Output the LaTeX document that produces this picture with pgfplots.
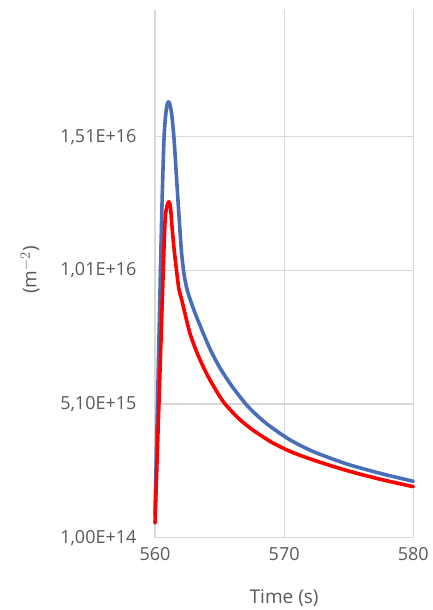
\documentclass[border=0pt]{standalone}
\usepackage{pgfplots}
\pgfplotsset{compat=1.18}
\usepackage{fontspec}
\setmainfont{Open Sans}
\definecolor{txt}{HTML}{595959}
\definecolor{gridc}{HTML}{D9D9D9}
\definecolor{blueline}{HTML}{4A6DB8}
\definecolor{redline}{HTML}{FF0000}
\begin{document}
\begin{tikzpicture}
\useasboundingbox (-155pt,-72.3pt) rectangle (278pt,537.7pt);
\begin{axis}[
  scale only axis,
  width=258.3pt, height=527.7pt,
  xmin=560, xmax=580, ymin=1e14, ymax=1.984e16,
  xtick={560,570,580}, xticklabels={560,570,580},
  ytick={1e14,5.1e15,1.01e16,1.51e16},
  yticklabels={{1,00E+14},{5,10E+15},{1,01E+16},{1,51E+16}},
  grid=major,
  major grid style={gridc, line width=1.2pt},
  axis line style={draw=none},
  tick style={draw=none},
  tick label style={font=\fontsize{18}{21}\selectfont, text=txt},
  yticklabel style={xshift=-15pt},
  xticklabel style={yshift=-6.5pt},
  label style={font=\fontsize{19}{22}\selectfont, text=txt},
  xlabel={Time (s)},
  ylabel={(m$^{-2}$)},
  xlabel style={at={(axis description cs:0.5,-0.114)}, anchor=center},
  ylabel style={at={(axis description cs:-0.484,0.507)}, anchor=center},
  every axis plot/.append style={line width=3.6pt, line join=round, line cap=round, smooth, tension=0.45},
  clip=false,
]
\addplot[blueline] coordinates {
(560.00,1.0e15) (560.20,5.2e15) (560.40,9.6e15) (560.55,1.27e16)
(560.70,1.505e16) (560.85,1.602e16) (560.97,1.635e16) (561.08,1.6405e16)
(561.18,1.625e16) (561.30,1.591e16) (561.47,1.505e16) (561.65,1.37e16)
(561.85,1.22e16) (562.05,1.08e16) (562.25,9.95e15) (562.50,9.35e15)
(562.84,8.85e15) (563.20,8.38e15) (563.74,7.74e15) (564.30,7.12e15)
(565.03,6.45e15) (566.00,5.74e15) (567.10,5.06e15) (568.00,4.63e15)
(568.90,4.27e15) (570.45,3.76e15) (572.26,3.32e15) (574.84,2.86e15)
(577.42,2.51e15) (580.00,2.21e15)
};
\addplot[redline] coordinates {
(560.00,6.5e14) (560.27,4.6e15) (560.54,8.62e15) (560.77,1.187e16)
(560.93,1.25e16) (561.08,1.267e16) (561.20,1.245e16) (561.34,1.161e16)
(561.50,1.08e16) (561.68,1.005e16) (561.85,9.40e15) (562.07,8.99e15)
(562.71,7.74e15) (563.40,6.85e15) (564.20,6.05e15) (565.30,5.18e15)
(566.50,4.55e15) (567.60,4.12e15) (569.00,3.68e15) (570.50,3.32e15)
(572.30,3.00e15) (574.80,2.62e15) (577.40,2.29e15) (580.00,2.01e15)
};
\end{axis}
\end{tikzpicture}
\end{document}
